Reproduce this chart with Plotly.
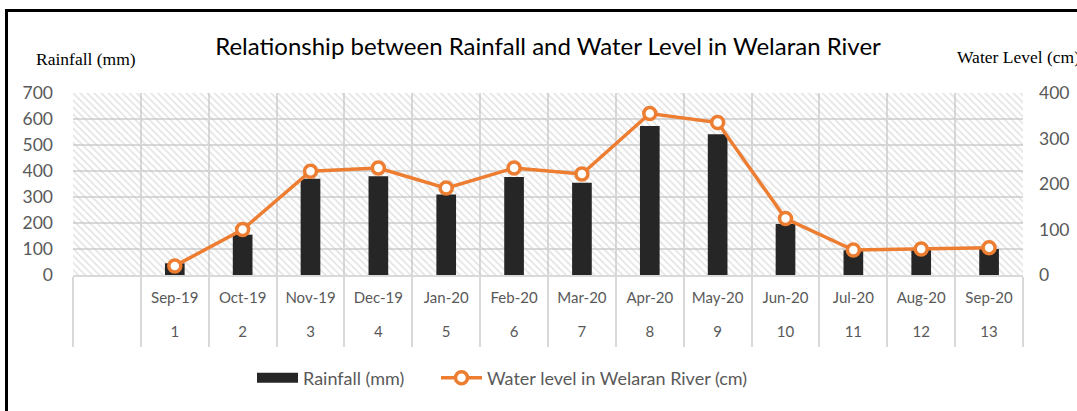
import plotly.graph_objects as go

# ---- data ----
months = ["Sep-19", "Oct-19", "Nov-19", "Dec-19", "Jan-20", "Feb-20", "Mar-20",
          "Apr-20", "May-20", "Jun-20", "Jul-20", "Aug-20", "Sep-20"]
month_numbers = ["1", "2", "3", "4", "5", "6", "7", "8", "9", "10", "11", "12", "13"]
rainfall_mm = [45, 155, 370, 380, 310, 377, 355, 573, 541, 196, 95, 100, 100]
water_level_cm = [20, 100, 228, 235, 191, 235, 222, 355, 335, 124, 55, 57, 60]

left_ticks = [0, 100, 200, 300, 400, 500, 600, 700]
right_ticks = [0, 100, 200, 300, 400]

# ---- layout constants ----
W, H = 1077, 411
PL, PR, PT, PB = 73, 1023, 93, 275  # plot area in px
GRID = "#d9d9d9"
TXT = "#595959"
ORANGE = "#ED7D31"
FONT = "Lato"


def px_x(px):
    return (px - PL) / (PR - PL)


def px_y(py):
    return (PB - py) / (PB - PT)


# leading blank category (empty first column as in the reference)
cats = [" "] + months
tick_text = [" "] + [
    f"<span style='font-size:15px'>{m}</span><br><br><span style='font-size:15px'>{n}</span>"
    for m, n in zip(months, month_numbers)
]

fig = go.Figure()

# hatched plot background
fig.add_trace(go.Bar(
    x=cats, y=[left_ticks[-1]] * len(cats), width=1,
    marker=dict(color="rgba(0,0,0,0)", line=dict(width=0),
                pattern=dict(shape="\\", size=5, solidity=0.3,
                             fgcolor="#c4c4c4", bgcolor="rgba(0,0,0,0)")),
    showlegend=False, hoverinfo="skip", yaxis="y"))

fig.add_trace(go.Bar(
    x=cats, y=[None] + rainfall_mm, name="Rainfall (mm)", width=0.29,
    marker=dict(color="#262626", line=dict(width=0)), yaxis="y",
    legendgroup="rain", showlegend=False))

# legend key for the rainfall bars (wide dark key like the reference)
fig.add_trace(go.Scatter(
    x=[None], y=[None], name="Rainfall (mm)", mode="lines", legendgroup="rain",
    line=dict(color="#262626", width=12), yaxis="y", legend="legend"))

fig.add_trace(go.Scatter(
    x=cats, y=[None] + water_level_cm, name="Water level in Welaran River (cm)",
    mode="lines+markers", yaxis="y2", legend="legend2",
    line=dict(color=ORANGE, width=3.5),
    marker=dict(size=12, color="white", line=dict(color=ORANGE, width=3.5))))

legend_common = dict(orientation="h", xanchor="left", yanchor="middle", itemwidth=41,
                     font=dict(family=FONT, size=18, color=TXT),
                     bgcolor="rgba(0,0,0,0)")

fig.update_layout(
    width=W, height=H,
    margin=dict(l=PL, r=W - PR, t=PT, b=H - PB, autoexpand=False),
    paper_bgcolor="white", plot_bgcolor="white",
    barmode="overlay",
    font=dict(family=FONT, color=TXT),
    title=dict(text="Relationship between Rainfall and Water Level in Welaran River",
               x=548 / W, xanchor="center", y=1 - 47 / H, yanchor="middle",
               xref="container", yref="container",
               font=dict(family=FONT, size=24, color="black")),
    xaxis=dict(type="category", categoryorder="array", categoryarray=cats,
               range=[-0.5, len(cats) - 0.5],
               tickvals=cats, ticktext=tick_text, automargin=False,
               showgrid=True, gridcolor=GRID, gridwidth=1.5,
               tickson="boundaries", ticks="outside", ticklen=70, tickwidth=2,
               tickcolor=GRID, ticklabelstandoff=11,
               showline=True, linecolor=GRID, linewidth=1.5,
               tickfont=dict(family=FONT, size=13, color=TXT), fixedrange=True),
    yaxis=dict(range=[0, left_ticks[-1]], tickvals=left_ticks, showgrid=True,
               gridcolor=GRID, gridwidth=1.5, zeroline=False, ticks="",
               ticklabelstandoff=19, automargin=False, fixedrange=True,
               tickfont=dict(family=FONT, size=17.5, color=TXT)),
    yaxis2=dict(range=[0, right_ticks[-1]], tickvals=right_ticks, overlaying="y",
                side="right", showgrid=False, zeroline=False, ticks="",
                ticklabelstandoff=15, automargin=False, fixedrange=True,
                tickfont=dict(family=FONT, size=17.5, color=TXT)),
    legend=dict(x=px_x(252), y=px_y(378), **legend_common),
    legend2=dict(x=px_x(436), y=px_y(378), **legend_common),
    annotations=[
        dict(text="Rainfall (mm)", x=px_x(86), y=px_y(59), xref="paper", yref="paper",
             xanchor="center", yanchor="middle", showarrow=False,
             font=dict(family="Liberation Serif", size=17.5, color="black")),
        dict(text="Water Level (cm)", x=px_x(955), y=px_y(57), xref="paper", yref="paper",
             xanchor="left", yanchor="middle", showarrow=False,
             font=dict(family="Liberation Serif", size=17.5, color="black")),
    ],
    shapes=[
        dict(type="line", xref="paper", yref="paper", x0=px_x(6.5), x1=px_x(6.5),
             y0=px_y(9), y1=px_y(420), line=dict(color="black", width=3)),
        dict(type="line", xref="paper", yref="paper", x0=px_x(5), x1=px_x(1090),
             y0=px_y(10.5), y1=px_y(10.5), line=dict(color="black", width=3)),
    ],
)

fig.write_html("out.html", config={"displayModeBar": False},
               post_script="document.body.style.margin='0';")
